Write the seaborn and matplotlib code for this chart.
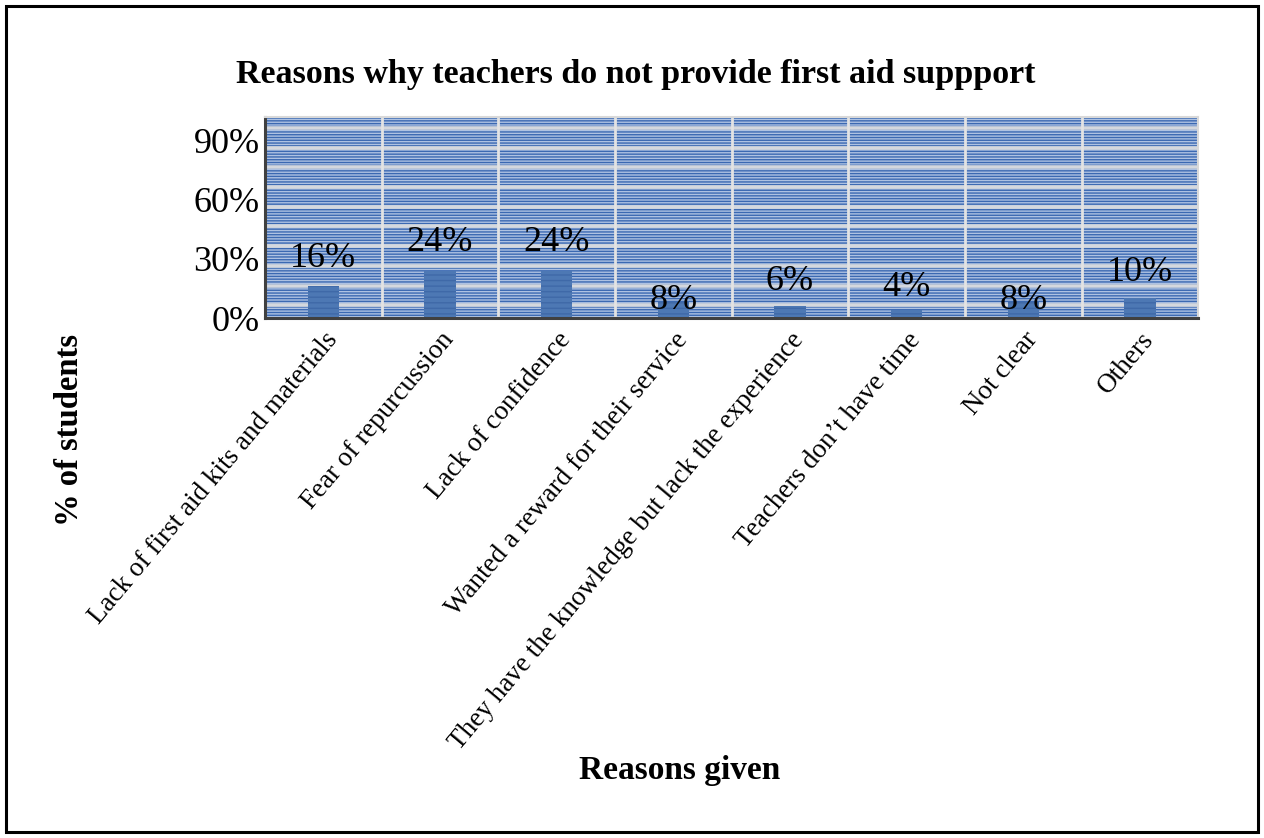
import matplotlib
matplotlib.use("Agg")
import matplotlib.pyplot as plt
from matplotlib.patches import Rectangle
import seaborn as sns
import pandas as pd

# Survey results
reasons = [
    "Lack of first aid kits and materials",
    "Fear of repurcussion",
    "Lack of confidence",
    "Wanted a reward for their service",
    "They have the knowledge but lack the experience",
    "Teachers don\u2019t have time",
    "Not clear",
    "Others",
]
share = [0.16, 0.24, 0.24, 0.08, 0.06, 0.04, 0.08, 0.10]
value_labels = ["16%", "24%", "24%", "8%", "6%", "4%", "8%", "10%"]
y_ticks = [0.0, 0.3, 0.6, 0.9]
y_tick_labels = ["0%", "30%", "60%", "90%"]

# vertical lift of each value label above its bar (data units)
label_lift = [0.14, 0.145, 0.145, 0.008, 0.125, 0.115, 0.008, 0.13]

df = pd.DataFrame({"reason": reasons, "share": share})

sns.set_theme(style="white")
plt.rcParams["font.family"] = ["Liberation Serif", "DejaVu Serif"]
plt.rcParams["text.color"] = "black"
plt.rcParams["xtick.color"] = "black"
plt.rcParams["ytick.color"] = "black"
plt.rcParams["axes.labelcolor"] = "black"

fig = plt.figure(figsize=(12.64, 8.38), dpi=100)
ax = fig.add_axes([0.2097, 0.6205, 0.948 - 0.2097, 0.8604 - 0.6205])

# striped plot background
ax.set_facecolor("#aec2e2")
bg = Rectangle((0, 0), 1, 1, transform=ax.transAxes, facecolor="none",
               edgecolor="#3b69b2", hatch="-" * 6, linewidth=0, zorder=0)
ax.add_patch(bg)
for g in [i / 10 for i in range(1, 11)]:
    ax.axhline(g - 0.035, color="#d4d8de", lw=2.6, zorder=0.5)

sns.barplot(data=df, x="reason", y="share", color="#4d78b4", width=0.27,
            ax=ax, zorder=2, saturation=1)
for p in ax.patches:
    if p is bg:
        continue
    p.set_hatch("-" * 3)
    p.set_edgecolor("#3f69a8")
    p.set_linewidth(0)

for i in range(len(reasons) - 1):
    ax.axvline(i + 0.5, color="#e3e3e3", lw=2, zorder=1)

ax.set_xlim(-0.5, len(reasons) - 0.5)
ax.set_ylim(0, 1.02)

for i, (v, lab, lift) in enumerate(zip(share, value_labels, label_lift)):
    ax.text(i, v + lift, lab, ha="center", va="center", fontsize=26,
            color="black", zorder=3)

ax.set_yticks(y_ticks)
ax.set_yticklabels(y_tick_labels, fontsize=26)
ax.set_xticks(range(len(reasons)))
ax.set_xticklabels(reasons, rotation=50, ha="right", rotation_mode="anchor",
                   fontsize=19.5)
ax.tick_params(axis="both", length=0, pad=4)
ax.tick_params(axis="x", pad=7)
ax.set_xlabel("")
ax.set_ylabel("")

for side in ["top", "right"]:
    ax.spines[side].set_color("#d9d9d9")
    ax.spines[side].set_linewidth(1.5)
for side in ["left", "bottom"]:
    ax.spines[side].set_color("#404040")
    ax.spines[side].set_linewidth(2.2)

fig.text(0.503, 1 - 75 / 838, "Reasons why teachers do not provide first aid suppport",
         ha="center", va="center", fontsize=24.5, fontweight="bold")
fig.text(0.538, 1 - 771 / 838, "Reasons given", ha="center", va="center",
         fontsize=24, fontweight="bold")
fig.text(70 / 1264, 1 - 430 / 838, "% of students", ha="center", va="center",
         rotation=90, fontsize=23.5, fontweight="bold")

fig.patches.append(Rectangle((6 / 1264, 6 / 838), 1 - 12 / 1264, 1 - 12 / 838,
                             transform=fig.transFigure, fill=False,
                             edgecolor="black", linewidth=2.2))

fig.savefig("out.png", dpi=100, facecolor="white")
